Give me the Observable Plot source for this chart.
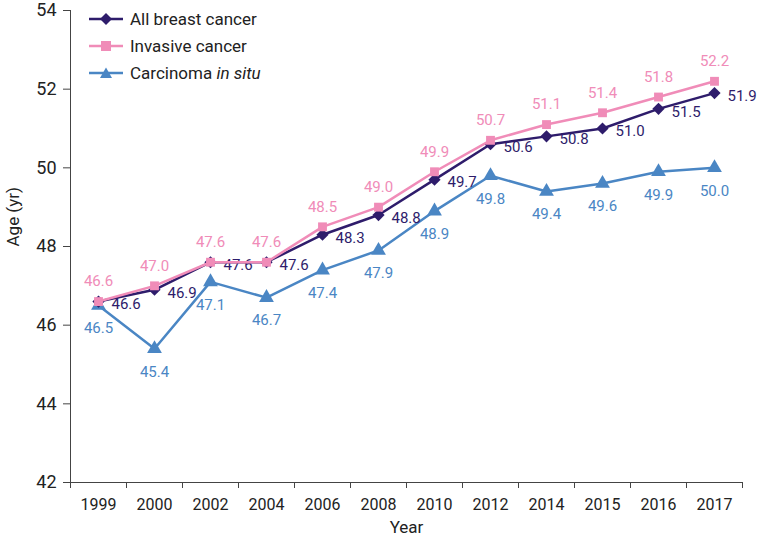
<!DOCTYPE html>
<html><head><meta charset="utf-8">
<script src="https://cdn.jsdelivr.net/npm/d3@7"></script>
<script src="https://cdn.jsdelivr.net/npm/@observablehq/plot@0.6"></script>
<style>
body{margin:0;background:#fff;font-family:Roboto, sans-serif;}
#wrap{position:relative;width:761px;height:542px;}
#legend{position:absolute;left:89px;top:5px;font-size:17px;color:#222;}
.item{display:flex;align-items:center;height:27px;}
.item svg{margin-right:7px}
</style></head><body>
<div id="wrap"><div id="legend"></div></div>
<script>
const years = ["1999","2000","2002","2004","2006","2008","2010","2012","2014","2015","2016","2017"];
const allBreast = [46.6, 46.9, 47.6, 47.6, 48.3, 48.8, 49.7, 50.6, 50.8, 51.0, 51.5, 51.9];
const invasive  = [46.6, 47.0, 47.6, 47.6, 48.5, 49.0, 49.9, 50.7, 51.1, 51.4, 51.8, 52.2];
const inSitu    = [46.5, 45.4, 47.1, 46.7, 47.4, 47.9, 48.9, 49.8, 49.4, 49.6, 49.9, 50.0];
const seriesNames = ["All breast cancer", "Invasive cancer", "Carcinoma in situ"];
const colors = ["#2e1c6b", "#f08cb8", "#4a86c4"];
const yTicks = [42, 44, 46, 48, 50, 52, 54];

const rows = [];
[allBreast, invasive, inSitu].forEach((vals, s) =>
  vals.forEach((v, i) => rows.push({series: seriesNames[s], i, year: years[i], value: v})));
const of = s => d => d.series === seriesNames[s];

const chart = Plot.plot({
  width: 761, height: 542,
  marginLeft: 70, marginRight: 19, marginTop: 10, marginBottom: 60,
  style: {fontFamily: "Roboto, sans-serif", fontSize: "15px", color: "#222", background: "#fff"},
  x: {type: "linear", domain: [-0.5, years.length - 0.5], axis: null},
  y: {domain: [yTicks[0], yTicks[yTicks.length - 1]], axis: null},
  marks: [
    Plot.axisY(yTicks, {tickSize: 7, tickPadding: 7, fontSize: 18, label: null, stroke: "#444"}),
    Plot.axisX(d3.range(years.length + 1).map(i => i - 0.5), {tickSize: 6, tickFormat: () => "", label: null, stroke: "#444"}),
    Plot.axisX(d3.range(years.length), {tickSize: 0, tickPadding: 16, tickFormat: i => years[i], fontSize: 16, label: null}),
    Plot.frame({anchor: "left", stroke: "#444"}),
    Plot.frame({anchor: "bottom", stroke: "#444"}),
    Plot.text(["Year"], {frameAnchor: "bottom", dy: 50, fontSize: 17, fill: "#222"}),
    Plot.text(["Age (yr)"], {frameAnchor: "left", dx: -57, rotate: -90, fontSize: 17, fill: "#222"}),
    // in situ
    Plot.line(rows, {filter: of(2), x: "i", y: "value", stroke: colors[2], strokeWidth: 2.5}),
    Plot.dot(rows, {filter: of(2), x: "i", y: "value", symbol: "triangle", r: 5.5, fill: colors[2]}),
    Plot.text(rows, {filter: of(2), x: "i", y: "value", text: d => d.value.toFixed(1), dy: 23, fill: colors[2], fontSize: 15}),
    // all breast
    Plot.line(rows, {filter: of(0), x: "i", y: "value", stroke: colors[0], strokeWidth: 2.5}),
    Plot.dot(rows, {filter: of(0), x: "i", y: "value", symbol: "diamond2", r: 5.5, fill: colors[0]}),
    Plot.text(rows, {filter: of(0), x: "i", y: "value", text: d => d.value.toFixed(1), textAnchor: "start", dx: 13, dy: 3, fill: colors[0], fontSize: 15}),
    // invasive
    Plot.line(rows, {filter: of(1), x: "i", y: "value", stroke: colors[1], strokeWidth: 2.5}),
    Plot.dot(rows, {filter: of(1), x: "i", y: "value", symbol: "square", r: 5, fill: colors[1]}),
    Plot.text(rows, {filter: of(1), x: "i", y: "value", text: d => d.value.toFixed(1), dy: -20, fill: colors[1], fontSize: 15})
  ]
});
document.getElementById("wrap").prepend(chart);

// legend
const glyphs = [
  '<polygon points="17,1 23,7 17,13 11,7"/>',
  '<rect x="12" y="2" width="10" height="10"/>',
  '<polygon points="17,1.5 23,12 11,12"/>'
];
const legend = document.getElementById("legend");
seriesNames.forEach((name, s) => {
  const item = document.createElement("div");
  item.className = "item";
  const label = s === 2 ? 'Carcinoma <i>in situ</i>' : name;
  item.innerHTML = `<svg width="34" height="14" viewBox="0 0 34 14"><line x1="0" y1="7" x2="34" y2="7" stroke="${colors[s]}" stroke-width="2.5"/><g fill="${colors[s]}">${glyphs[s]}</g></svg><span>${label}</span>`;
  legend.appendChild(item);
});
</script>
</body></html>
